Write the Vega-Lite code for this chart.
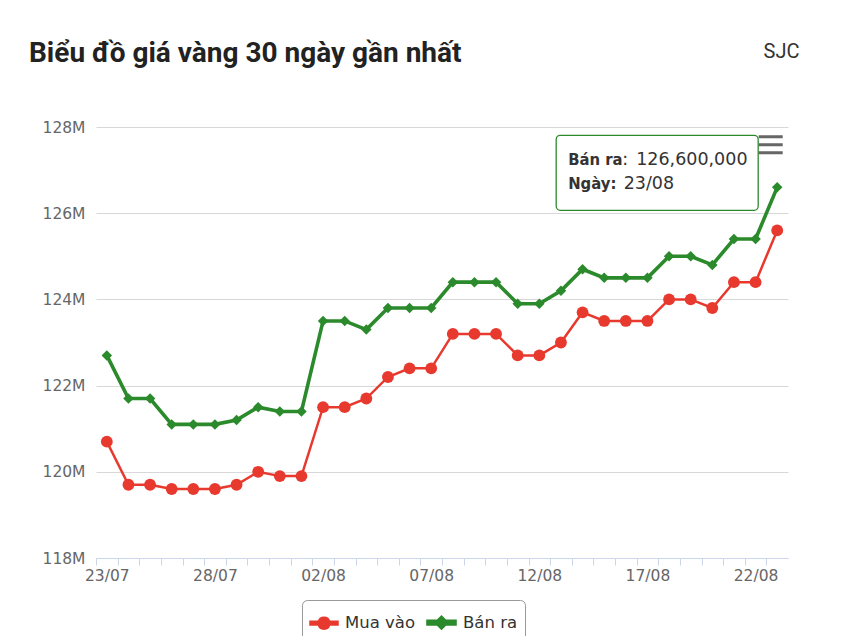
{
  "$schema": "https://vega.github.io/schema/vega-lite/v6.json",
  "autosize": "none",
  "width": 692,
  "height": 431,
  "padding": {"left": 96, "top": 127, "right": 54, "bottom": 78},
  "background": "white",
  "title": {
    "text": "Biểu đồ giá vàng 30 ngày gần nhất",
    "anchor": "start",
    "frame": "group",
    "dx": -67,
    "offset": -27,
    "font": "Roboto",
    "fontSize": 28,
    "fontWeight": "bold",
    "color": "#222222"
  },
  "data": {
    "values": [
      {"ngay": "23/07", "Mua vào": 120700000, "Bán ra": 122700000},
      {"ngay": "24/07", "Mua vào": 119700000, "Bán ra": 121700000},
      {"ngay": "25/07", "Mua vào": 119700000, "Bán ra": 121700000},
      {"ngay": "26/07", "Mua vào": 119600000, "Bán ra": 121100000},
      {"ngay": "27/07", "Mua vào": 119600000, "Bán ra": 121100000},
      {"ngay": "28/07", "Mua vào": 119600000, "Bán ra": 121100000},
      {"ngay": "29/07", "Mua vào": 119700000, "Bán ra": 121200000},
      {"ngay": "30/07", "Mua vào": 120000000, "Bán ra": 121500000},
      {"ngay": "31/07", "Mua vào": 119900000, "Bán ra": 121400000},
      {"ngay": "01/08", "Mua vào": 119900000, "Bán ra": 121400000},
      {"ngay": "02/08", "Mua vào": 121500000, "Bán ra": 123500000},
      {"ngay": "03/08", "Mua vào": 121500000, "Bán ra": 123500000},
      {"ngay": "04/08", "Mua vào": 121700000, "Bán ra": 123300000},
      {"ngay": "05/08", "Mua vào": 122200000, "Bán ra": 123800000},
      {"ngay": "06/08", "Mua vào": 122400000, "Bán ra": 123800000},
      {"ngay": "07/08", "Mua vào": 122400000, "Bán ra": 123800000},
      {"ngay": "08/08", "Mua vào": 123200000, "Bán ra": 124400000},
      {"ngay": "09/08", "Mua vào": 123200000, "Bán ra": 124400000},
      {"ngay": "10/08", "Mua vào": 123200000, "Bán ra": 124400000},
      {"ngay": "11/08", "Mua vào": 122700000, "Bán ra": 123900000},
      {"ngay": "12/08", "Mua vào": 122700000, "Bán ra": 123900000},
      {"ngay": "13/08", "Mua vào": 123000000, "Bán ra": 124200000},
      {"ngay": "14/08", "Mua vào": 123700000, "Bán ra": 124700000},
      {"ngay": "15/08", "Mua vào": 123500000, "Bán ra": 124500000},
      {"ngay": "16/08", "Mua vào": 123500000, "Bán ra": 124500000},
      {"ngay": "17/08", "Mua vào": 123500000, "Bán ra": 124500000},
      {"ngay": "18/08", "Mua vào": 124000000, "Bán ra": 125000000},
      {"ngay": "19/08", "Mua vào": 124000000, "Bán ra": 125000000},
      {"ngay": "20/08", "Mua vào": 123800000, "Bán ra": 124800000},
      {"ngay": "21/08", "Mua vào": 124400000, "Bán ra": 125400000},
      {"ngay": "22/08", "Mua vào": 124400000, "Bán ra": 125400000},
      {"ngay": "23/08", "Mua vào": 125600000, "Bán ra": 126600000}
    ]
  },
  "transform": [
    {"fold": ["Mua vào", "Bán ra"], "as": ["series", "gia"]}
  ],
  "encoding": {
    "x": {
      "field": "ngay",
      "type": "ordinal",
      "sort": null,
      "title": null,
      "scale": {"type": "point", "padding": 0.5},
      "axis": {
        "labelAngle": 0,
        "labelExpr": "indexof(['23/07','28/07','02/08','07/08','12/08','17/08','22/08'], datum.value) >= 0 ? datum.value : ''",
        "labelFont": "DejaVu Sans",
        "labelFontSize": 15.5,
        "labelColor": "#666666",
        "labelPadding": 3,
        "labelOffset": 10.8125,
        "tickOffset": -10.8125,
        "tickSize": 7,
        "tickColor": "#ccd6eb",
        "domainColor": "#ccd6eb",
        "grid": false
      }
    },
    "y": {
      "field": "gia",
      "type": "quantitative",
      "scale": {"domain": [118000000, 128000000], "nice": false, "zero": false},
      "axis": {
        "values": [118000000, 120000000, 122000000, 124000000, 126000000, 128000000],
        "labelExpr": "(datum.value / 1000000) + 'M'",
        "labelFont": "DejaVu Sans",
        "labelFontSize": 15.5,
        "labelColor": "#666666",
        "labelPadding": 11,
        "ticks": false,
        "domain": false,
        "grid": true,
        "gridColor": "#d8d8d8",
        "gridWidth": 1.2,
        "title": "SJC",
        "titleAngle": 0,
        "titleX": 667,
        "titleY": -70,
        "titleAlign": "left",
        "titleBaseline": "alphabetic",
        "titleFont": "Roboto",
        "titleFontSize": 20,
        "titleFontWeight": "normal",
        "titleColor": "#333333"
      }
    }
  },
  "layer": [
    {
      "encoding": {
        "color": {
          "field": "series",
          "type": "nominal",
          "scale": {"domain": ["Mua vào", "Bán ra"], "range": ["#e8392f", "#2b8a2b"]},
          "legend": {
            "title": null,
            "orient": "none",
            "legendX": 206,
            "legendY": 473,
            "direction": "horizontal",
            "strokeColor": "#999999",
            "cornerRadius": 5,
            "padding": 7,
            "fillColor": "#ffffff",
            "labelFont": "DejaVu Sans",
            "labelFontSize": 16.5,
            "labelColor": "#333333",
            "labelOffset": 6,
            "columnPadding": 4,
            "symbolSize": 729,
            "symbolStrokeWidth": 0,
            "encoding": {
              "symbols": {
                "shape": {"value": {"expr": "datum.value === 'Mua vào' ? 'M-1,-0.1H-0.39A0.4,0.4 0 0,1 0.39,-0.1H1V0.1H0.39A0.4,0.4 0 0,1 -0.39,0.1H-1Z' : 'M-1,-0.1H-0.28L0,-0.38L0.28,-0.1H1V0.1H0.28L0,0.38L-0.28,0.1H-1Z'"}},
                "size": {"value": 729},
                "fill": {"value": {"expr": "scale('color', datum.value)"}},
                "stroke": {"value": "transparent"},
                "strokeWidth": {"value": 0},
                "opacity": {"value": 1}
              }
            }
          }
        }
      },
      "layer": [
        {
          "mark": {"type": "line"},
          "encoding": {
            "strokeWidth": {
              "field": "series",
              "type": "nominal",
              "scale": {"domain": ["Mua vào", "Bán ra"], "range": [2.5, 3.6]},
              "legend": null
            }
          }
        },
        {
          "transform": [{"filter": "datum.series === 'Mua vào'"}],
          "mark": {"type": "point", "shape": "circle", "size": 140, "filled": true, "opacity": 1}
        },
        {
          "transform": [{"filter": "datum.series === 'Bán ra'"}],
          "mark": {"type": "point", "shape": "diamond", "size": 110, "filled": true, "opacity": 1}
        }
      ]
    },
    {
      "transform": [{"filter": "datum.ngay === '23/08' && datum.series === 'Bán ra'"}],
      "layer": [
        {
          "mark": {
            "type": "point",
            "shape": "M-0.96,-0.371H0.96A0.04,0.04 0 0,1 1,-0.331V0.331A0.04,0.04 0 0,1 0.96,0.371H-0.96A0.04,0.04 0 0,1 -1,0.331V-0.331A0.04,0.04 0 0,1 -0.96,-0.371Z",
            "size": 40804,
            "filled": true,
            "fill": "#ffffff",
            "fillOpacity": 0.97,
            "opacity": 1,
            "stroke": "#2b8a2b",
            "strokeWidth": 1.3,
            "xOffset": -120,
            "yOffset": -14.5
          }
        },
        {
          "mark": {"type": "text", "align": "left", "baseline": "alphabetic", "dx": -209, "dy": -22, "font": "DejaVu Sans Condensed, DejaVu Sans", "fontSize": 16.5, "fontWeight": "bold", "color": "#333333"},
          "encoding": {"text": {"field": "series"}}
        },
        {
          "mark": {"type": "text", "text": ":", "align": "left", "baseline": "alphabetic", "dx": -155, "dy": -22, "font": "DejaVu Sans", "fontSize": 17.5, "color": "#333333"}
        },
        {
          "mark": {"type": "text", "align": "left", "baseline": "alphabetic", "dx": -141, "dy": -22, "font": "DejaVu Sans", "fontSize": 17.5, "color": "#333333"},
          "encoding": {"text": {"field": "gia", "type": "quantitative", "format": ",.0f"}}
        },
        {
          "mark": {"type": "text", "text": "Ngày:", "align": "left", "baseline": "alphabetic", "dx": -209, "dy": 1.5, "font": "DejaVu Sans Condensed, DejaVu Sans", "fontSize": 16.5, "fontWeight": "bold", "color": "#333333"}
        },
        {
          "mark": {"type": "text", "align": "left", "baseline": "alphabetic", "dx": -153.5, "dy": 1.5, "font": "DejaVu Sans", "fontSize": 17.5, "color": "#333333"},
          "encoding": {"text": {"field": "ngay"}}
        },
        {
          "mark": {
            "type": "point",
            "shape": "M-1,-0.79H1V-0.54H-1Z M-1,-0.125H1V0.125H-1Z M-1,0.54H1V0.79H-1Z",
            "size": 576,
            "filled": true,
            "fill": "#666666",
            "opacity": 1,
            "xOffset": -6.5,
            "yOffset": -42.5
          }
        }
      ]
    }
  ],
  "config": {
    "view": {"stroke": null}
  }
}
